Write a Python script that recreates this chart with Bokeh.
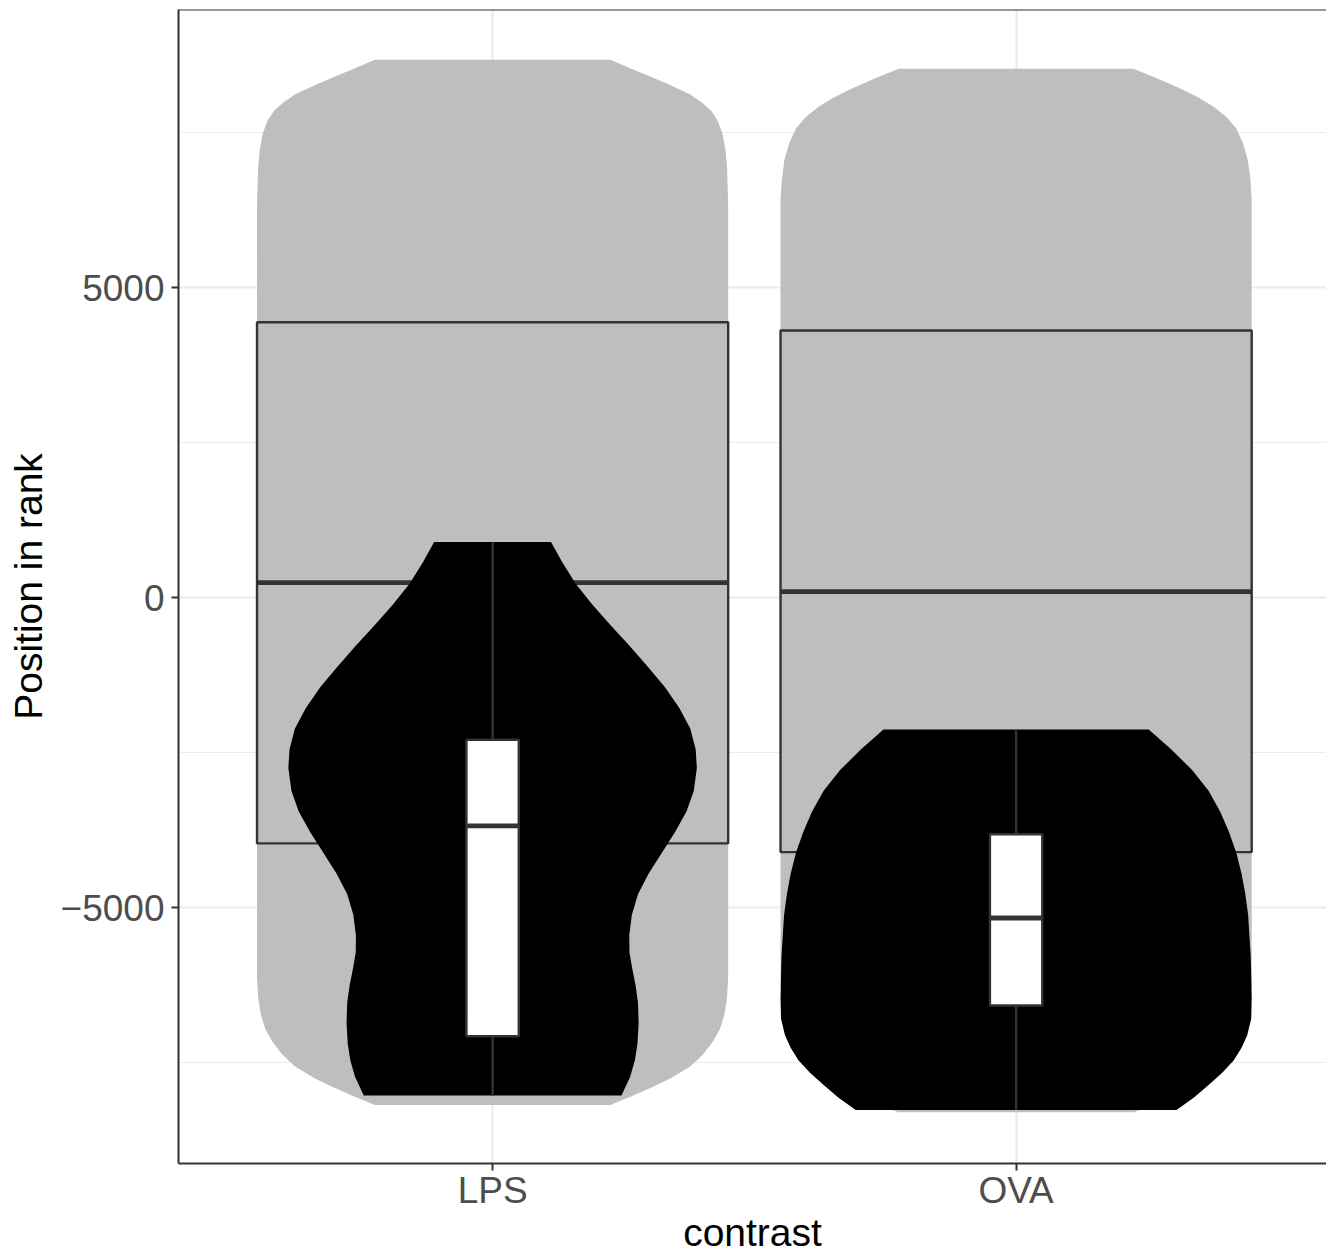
import numpy as np
from bokeh.plotting import figure
from bokeh.models import FixedTicker, Span, Range1d
from bokeh.embed import file_html
from bokeh.resources import INLINE

categories = ["LPS", "OVA"]

# background violins (all genes): rank and relative density (1 = widest)
bg_lps_rank = [-8185, -8045, -7898, -7750, -7563, -7362, -7162, -6961, -6727, -6460, -6125,
               6296, 6618, 6941, 7210, 7479, 7694, 7855, 7989, 8113, 8258, 8392, 8527, 8672]
bg_lps_dens = [0.50, 0.589, 0.677, 0.758, 0.839, 0.895, 0.935, 0.965, 0.984, 0.995, 1.0,
               1.0, 0.998, 0.995, 0.989, 0.976, 0.955, 0.927, 0.887, 0.839, 0.758, 0.677, 0.589, 0.50]
bg_ova_rank = [-8303, -8163, -8016, -7868, -7681, -7480, -7280, -7079, -6845, -6578, -6243,
               6403, 6726, 7048, 7317, 7559, 7747, 7919, 8070, 8220, 8382, 8527]
bg_ova_dens = [0.50, 0.589, 0.677, 0.758, 0.839, 0.895, 0.935, 0.965, 0.984, 0.995, 1.0,
               1.0, 0.995, 0.984, 0.964, 0.935, 0.894, 0.837, 0.772, 0.690, 0.592, 0.498]

# background boxplots
bg_q1 = [-3966, -4106]
bg_med = [240, 94]
bg_q3 = [4440, 4306]

# foreground violins (selected genes)
sig_lps_rank = [-8031, -7730, -7463, -7196, -6861, -6527, -6259, -5992, -5724, -5457,
                -5122, -4788, -4454, -4119, -3785, -3451, -3116, -2749, -2448, -2113,
                -1779, -1445, -1110, -776, -442, -107, 227, 561, 896]
sig_lps_dens = [0.547, 0.584, 0.604, 0.615, 0.620, 0.617, 0.607, 0.593, 0.581, 0.580,
                0.591, 0.617, 0.662, 0.718, 0.774, 0.823, 0.854, 0.867, 0.862, 0.839,
                0.792, 0.731, 0.657, 0.580, 0.500, 0.422, 0.352, 0.297, 0.248]
sig_ova_rank = [-8265, -8065, -7864, -7664, -7463, -7262, -7062, -6794, -6460, -5791,
                -5122, -4788, -4454, -4119, -3785, -3451, -3116, -2782, -2448, -2127]
sig_ova_dens = [0.681, 0.755, 0.817, 0.875, 0.924, 0.957, 0.981, 0.998, 1.0, 0.996,
                0.985, 0.973, 0.957, 0.935, 0.904, 0.866, 0.817, 0.747, 0.658, 0.563]

# foreground boxplots
sig_low = [-8031, -8265]
sig_q1 = [-7076, -6581]
sig_med = [-3685, -5169]
sig_q3 = [-2294, -3818]
sig_high = [896, -2127]

y_ticks = [-5000, 0, 5000]
y_minor = [-7500, -2500, 2500, 7500]

X_LO, X_HI = 0.4, 2.5929
Y_LO, Y_HI = -9129, 9484

VW = 0.45   # violin half width
BW_BG = 0.45
BW_FG = 0.05
DARK = "#333333"
FONT = "Liberation Sans"

p = figure(width=1326, height=1256, x_range=Range1d(X_LO, X_HI), y_range=Range1d(Y_LO, Y_HI),
           output_backend="svg", toolbar_location=None,
           min_border_left=178, min_border_right=0, min_border_top=9, min_border_bottom=93)
p.background_fill_color = "white"
p.border_fill_color = "white"
p.outline_line_color = None

positions = [i + 1 for i in range(len(categories))]


def violin(center, ranks, dens, color):
    r = np.asarray(ranks, dtype=float)
    d = np.asarray(dens, dtype=float) * VW
    xs = np.concatenate([center - d, (center + d)[::-1]])
    ys = np.concatenate([r, r[::-1]])
    p.patch(xs, ys, fill_color=color, line_color=None)


bg = [(bg_lps_rank, bg_lps_dens), (bg_ova_rank, bg_ova_dens)]
fg = [(sig_lps_rank, sig_lps_dens), (sig_ova_rank, sig_ova_dens)]

for c, (r, d) in zip(positions, bg):
    violin(c, r, d, "#BEBEBE")

pos = np.array(positions, dtype=float)
p.quad(left=pos - BW_BG, right=pos + BW_BG, bottom=bg_q1, top=bg_q3,
       fill_color="#BEBEBE", line_color=DARK, line_width=2.4)
p.segment(x0=pos - BW_BG, x1=pos + BW_BG, y0=bg_med, y1=bg_med, line_color=DARK, line_width=4.8)

for c, (r, d) in zip(positions, fg):
    violin(c, r, d, "black")

p.segment(x0=pos, x1=pos, y0=sig_low, y1=sig_high, line_color=DARK, line_width=2.4)
p.quad(left=pos - BW_FG, right=pos + BW_FG, bottom=sig_q1, top=sig_q3,
       fill_color="white", line_color=DARK, line_width=2.4)
p.segment(x0=pos - BW_FG, x1=pos + BW_FG, y0=sig_med, y1=sig_med, line_color=DARK, line_width=4.8)

# axes
p.xaxis.ticker = FixedTicker(ticks=positions)
p.xaxis.major_label_overrides = {c: n for c, n in zip(positions, categories)}
p.yaxis.ticker = FixedTicker(ticks=y_ticks, minor_ticks=y_minor)
p.yaxis.major_label_overrides = {t: (str(t).replace("-", "\u2212")) for t in y_ticks}

for ax in (p.xaxis[0], p.yaxis[0]):
    ax.axis_line_color = DARK
    ax.axis_line_width = 2
    ax.major_tick_line_color = DARK
    ax.major_tick_line_width = 2
    ax.major_tick_out = 7
    ax.major_tick_in = 0
    ax.minor_tick_line_color = None
    ax.major_label_text_font = FONT
    ax.major_label_text_font_size = "37px"
    ax.major_label_text_color = "#4D4D4D"
    ax.axis_label_text_font = FONT
    ax.axis_label_text_font_size = "39px"
    ax.axis_label_text_font_style = "normal"
    ax.axis_label_text_color = "black"

p.xaxis.major_label_standoff = -1
p.yaxis.major_label_standoff = 7

p.yaxis.axis_label = "Position in rank"
p.yaxis.axis_label_standoff = 8
p.xaxis.axis_label = "contrast"
p.xaxis.axis_label_standoff = -3

p.xgrid.grid_line_color = "#EBEBEB"
p.xgrid.grid_line_width = 2.2
p.ygrid.grid_line_color = "#EBEBEB"
p.ygrid.grid_line_width = 2.2
p.ygrid.minor_grid_line_color = "#EBEBEB"
p.ygrid.minor_grid_line_width = 1.1

p.add_layout(Span(location=Y_HI, dimension="width", line_color=DARK, line_width=2))

open("out.html", "w").write(file_html(p, INLINE))
